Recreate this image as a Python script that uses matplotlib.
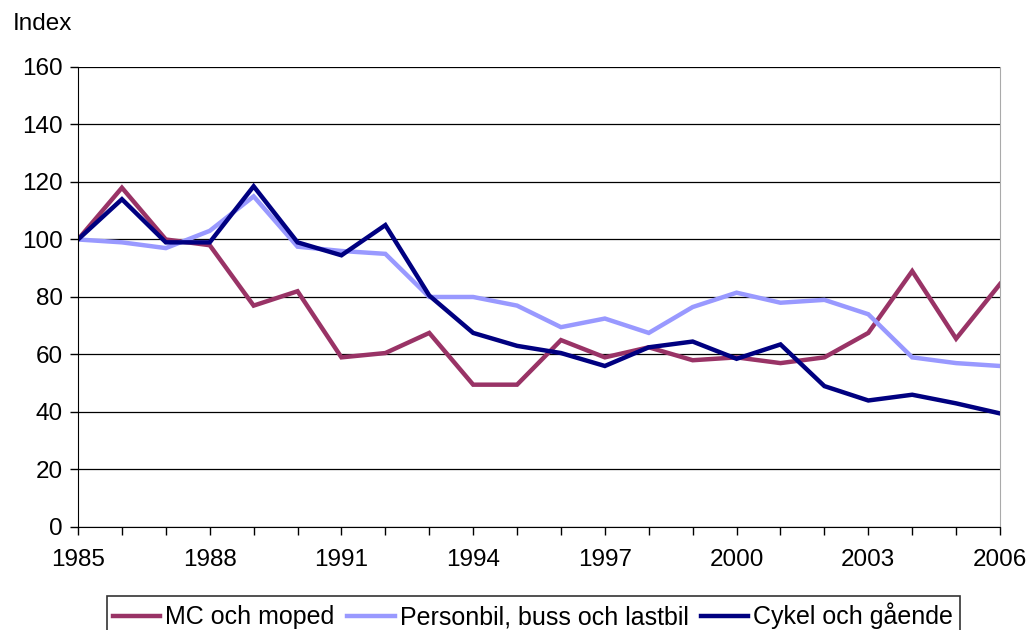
import numpy as np
import matplotlib.pyplot as plt
from matplotlib.ticker import MultipleLocator, FixedLocator

plt.rcParams['font.family'] = ['Liberation Sans', 'DejaVu Sans']

years = np.arange(1985, 2007)
year_ticks = np.arange(1985, 2007, 3)

mc_moped = [100, 118, 100, 98, 77, 82, 59, 60.5, 67.5, 49.5, 49.5, 65,
            59, 62.5, 58, 59, 57, 59, 67.5, 89, 65.5, 84.5]
personbil = [100, 99, 97, 103, 115, 97.5, 96, 95, 80, 80, 77, 69.5,
             72.5, 67.5, 76.5, 81.5, 78, 79, 74, 59, 57, 56]
cykel = [100, 114, 99, 99, 118.5, 99, 94.5, 105, 80.5, 67.5, 63, 60.5,
         56, 62.5, 64.5, 58.5, 63.5, 49, 44, 46, 43, 39.5]

labels = ['MC och moped', 'Personbil, buss och lastbil', 'Cykel och gående']
colors = ['#993366', '#9999FF', '#000080']

fig = plt.figure(figsize=(10.32, 6.3), dpi=100)
ax = fig.add_axes([0.0756, 0.1635, 0.8934, 0.7302])

for vals, lab, col in zip([mc_moped, personbil, cykel], labels, colors):
    ax.plot(years, vals, color=col, lw=3.2, label=lab, solid_joinstyle='miter')

ax.set_xlim(1985, 2006)
ax.set_ylim(0, 160)
ax.xaxis.set_major_locator(FixedLocator(year_ticks))
ax.xaxis.set_minor_locator(MultipleLocator(1))
ax.yaxis.set_major_locator(MultipleLocator(20))
ax.grid(axis='y', color='black', lw=0.9)
ax.set_axisbelow(True)

ax.tick_params(axis='both', which='major', labelsize=17.5, direction='out',
               length=6, width=1, color='black', pad=5)
ax.tick_params(axis='x', which='major', pad=10)
ax.tick_params(axis='x', which='minor', direction='out', length=6, width=1)

ax.spines['top'].set_visible(False)
ax.spines['right'].set_color('#aaaaaa')
ax.spines['left'].set_color('black')
ax.spines['bottom'].set_color('black')

fig.text(0.012, 0.962, 'Index', fontsize=17.5, ha='left', va='center')

leg = ax.legend(loc='upper center', bbox_to_anchor=(0.4935, -0.151), ncol=3,
                fontsize=18, frameon=True, fancybox=False, edgecolor='black',
                handlelength=1.9, handletextpad=0.2, columnspacing=0.5,
                borderpad=0.25, borderaxespad=0)
leg.get_frame().set_linewidth(1.2)

fig.savefig('out.png', dpi=100)
